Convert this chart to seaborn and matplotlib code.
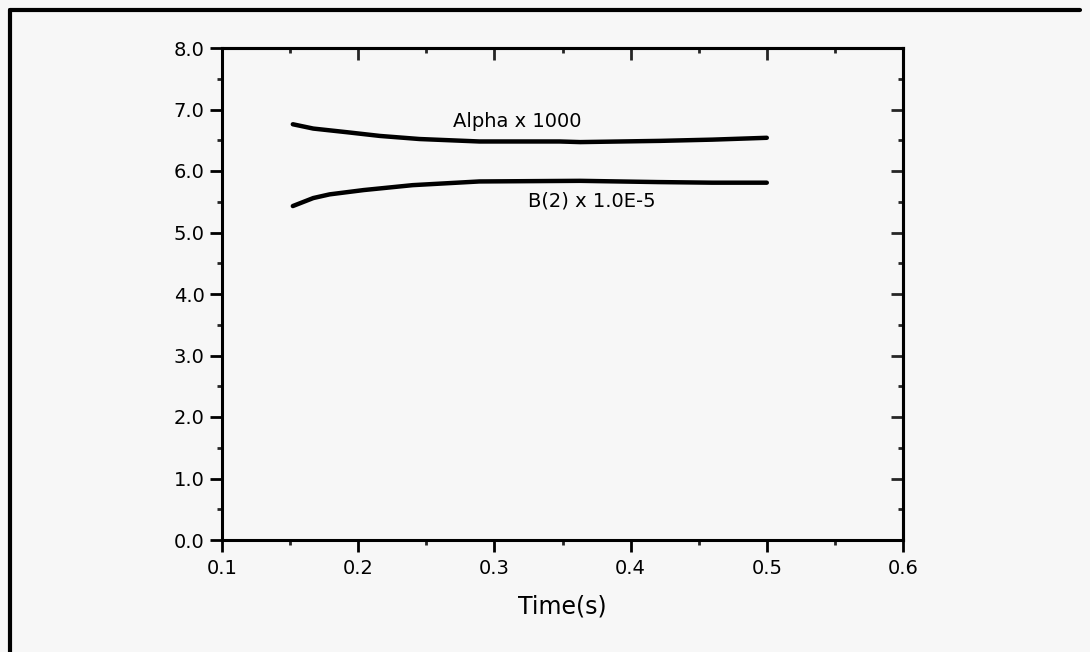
import matplotlib
matplotlib.use("Agg")
import matplotlib.pyplot as plt
from matplotlib.lines import Line2D
from matplotlib.ticker import MultipleLocator
import pandas as pd
import seaborn as sns

# values
time_alpha = [0.152, 0.167, 0.192, 0.216, 0.245, 0.289, 0.348, 0.363, 0.422, 0.460, 0.500]
alpha_x1000 = [6.76, 6.69, 6.63, 6.57, 6.52, 6.48, 6.48, 6.47, 6.49, 6.51, 6.54]
time_b2 = [0.152, 0.167, 0.179, 0.204, 0.240, 0.289, 0.363, 0.420, 0.460, 0.500]
b2_x1e5 = [5.43, 5.56, 5.62, 5.69, 5.77, 5.83, 5.84, 5.82, 5.81, 5.81]

x_ticks = [0.1, 0.2, 0.3, 0.4, 0.5, 0.6]
y_ticks = [0.0, 1.0, 2.0, 3.0, 4.0, 5.0, 6.0, 7.0, 8.0]

BG = "#f7f7f7"

df = pd.concat([
    pd.DataFrame({"time": time_alpha, "value": alpha_x1000, "series": "Alpha x 1000"}),
    pd.DataFrame({"time": time_b2, "value": b2_x1e5, "series": "B(2) x 1.0E-5"}),
])

sns.set_style("ticks")
plt.rcParams["font.family"] = ["DejaVu Sans"]
plt.rcParams["text.color"] = "black"
plt.rcParams["axes.labelcolor"] = "black"

fig = plt.figure(figsize=(10.9, 6.52), dpi=100, facecolor=BG)
ax = fig.add_axes([222 / 1090, 1 - 540 / 652, 681 / 1090, 492 / 652])
ax.set_facecolor(BG)

sns.lineplot(data=df, x="time", y="value", units="series", estimator=None,
             color="black", linewidth=3.2, ax=ax, legend=False, sort=False)

ax.set_xlim(0.1, 0.6)
ax.set_ylim(0.0, 8.0)
ax.set_xticks(x_ticks)
ax.set_yticks(y_ticks)
ax.set_xticklabels([f"{v:.1f}" for v in x_ticks])
ax.set_yticklabels([f"{v:.1f}" for v in y_ticks])
ax.xaxis.set_minor_locator(MultipleLocator(0.05))
ax.yaxis.set_minor_locator(MultipleLocator(0.5))
ax.tick_params(which="major", direction="out", length=8.5, width=2, labelsize=14, colors="black")
ax.tick_params(which="minor", direction="out", length=3.5, width=2)
ax.tick_params(axis="x", pad=5)
ax.tick_params(axis="y", pad=4)
for spine in ax.spines.values():
    spine.set_visible(True)
    spine.set_color("black")
    spine.set_linewidth(2.2)

# inward ticks on top and right
top = ax.secondary_xaxis("top")
top.set_xticks(x_ticks)
top.xaxis.set_minor_locator(MultipleLocator(0.05))
top.tick_params(which="major", direction="in", length=8.5, width=2, labeltop=False)
top.tick_params(which="minor", direction="in", length=3.5, width=2)
top.spines["top"].set_linewidth(2.2)
right = ax.secondary_yaxis("right")
right.set_yticks(y_ticks)
right.yaxis.set_minor_locator(MultipleLocator(0.5))
right.tick_params(which="major", direction="in", length=8.5, width=2, labelright=False)
right.tick_params(which="minor", direction="in", length=3.5, width=2)
right.spines["right"].set_linewidth(2.2)

ax.set_xlabel("Time(s)", fontsize=17, labelpad=12, color="black")
ax.set_ylabel("")

ax.text(0.2696, 6.80, "Alpha x 1000", fontsize=14, ha="left", va="center", color="black")
ax.text(0.3247, 5.51, "B(2) x 1.0E-5", fontsize=14, ha="left", va="center", color="black")

# page frame (left and top edges of the scanned box)
fig.add_artist(Line2D([10 / 1090, 10 / 1090], [0, 1 - 10 / 652], transform=fig.transFigure,
                      color="black", linewidth=3))
fig.add_artist(Line2D([10 / 1090, 1080 / 1090], [1 - 10 / 652, 1 - 10 / 652],
                      transform=fig.transFigure, color="black", linewidth=3))

fig.savefig("out.png", dpi=100, facecolor=BG)
